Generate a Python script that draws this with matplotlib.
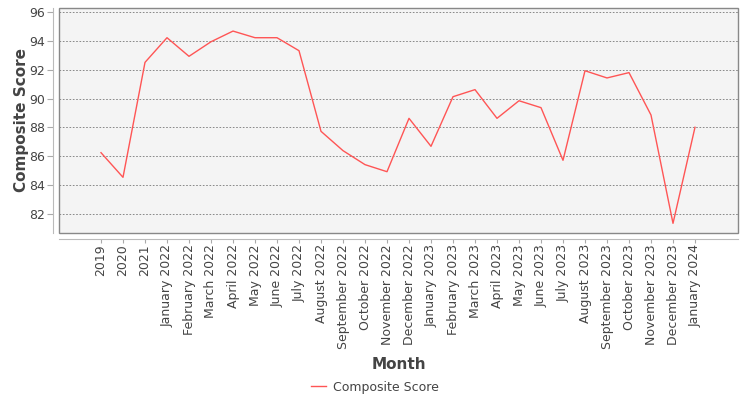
import matplotlib
matplotlib.use("Agg")
import matplotlib.pyplot as plt
import matplotlib.patches as mpatches

months = ["2019", "2020", "2021",
          "January 2022", "February 2022", "March 2022", "April 2022",
          "May 2022", "June 2022", "July 2022", "August 2022",
          "September 2022", "October 2022", "November 2022", "December 2022",
          "January 2023", "February 2023", "March 2023", "April 2023",
          "May 2023", "June 2023", "July 2023", "August 2023",
          "September 2023", "October 2023", "November 2023", "December 2023",
          "January 2024"]
scores = [86.25, 84.54, 92.51,
          94.22, 92.93, 93.94, 94.68,
          94.22, 94.22, 93.32, 87.73,
          86.39, 85.42, 84.93, 88.63,
          86.69, 90.13, 90.62, 88.63,
          89.85, 89.37, 85.72, 91.93,
          91.43, 91.80, 88.86, 81.35,
          88.01]
y_ticks = [82, 84, 86, 88, 90, 92, 94, 96]

plt.rcParams["font.family"] = "DejaVu Sans"
txt = "#444444"

fig = plt.figure(figsize=(7.5, 4.0), dpi=100)
ax = fig.add_axes([59 / 750, 1 - 233 / 400, 679 / 750, 225 / 400])
ax.set_facecolor("#f4f4f4")

x = list(range(len(months)))
line, = ax.plot(x, scores, color="#ff5555", lw=1.0, label="Composite Score")

ax.set_xlim(-0.5 - 31 / 22, len(months) - 0.5 + 32 / 22)
ax.set_ylim(80.68, 96.28)
ax.set_yticks(y_ticks)
ax.set_xticks(x)
ax.set_xticklabels(months)
ax.tick_params(axis="y", labelsize=9, labelcolor=txt, color="#aaaaaa",
               length=4, width=0.8, pad=2)
ax.tick_params(axis="x", labelsize=9, labelcolor=txt, labelrotation=90,
               color="#aaaaaa", length=3, width=0.8, pad=1)

ax.yaxis.grid(True, color="#777777", ls=(0, (2, 2)), lw=0.6)
ax.set_axisbelow(True)

for s in ["top", "right"]:
    ax.spines[s].set_visible(False)
ax.spines["left"].set_position(("outward", 4))
ax.spines["bottom"].set_position(("outward", 4))
ax.spines["left"].set_color("#bbbbbb")
ax.spines["bottom"].set_color("#bbbbbb")
ax.add_patch(mpatches.Rectangle((0, 0), 1, 1, transform=ax.transAxes,
                                fill=False, edgecolor="#888888", lw=1.0,
                                clip_on=False, zorder=5))

ax.set_ylabel("Composite Score", fontsize=11, fontweight="bold", color=txt,
              labelpad=0)
ax.set_xlabel("Month", fontsize=11, fontweight="bold", color=txt, labelpad=6)

fig.legend(handles=[line], loc="center", bbox_to_anchor=(375 / 750, 1 - 387 / 400),
           frameon=False, fontsize=9, labelcolor=txt, handlelength=1.2,
           handletextpad=0.5)

fig.savefig("out.png", dpi=100)
